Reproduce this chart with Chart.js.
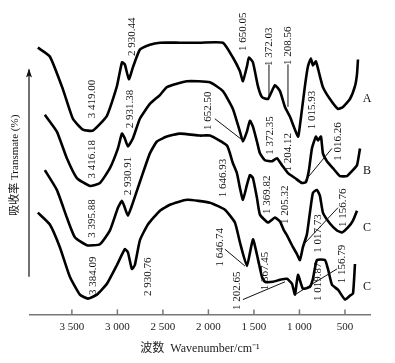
<!DOCTYPE html>
<html lang="zh">
<head>
<meta charset="UTF-8">
<title>FTIR spectra</title>
<script src="https://cdn.jsdelivr.net/npm/chart.js"></script>
<style>
  html, body { margin: 0; padding: 0; background: #fff; }
</style>
</head>
<body>
<canvas id="myChart" width="395" height="363"></canvas>
<script>
// wavenumber (cm-1) and relative transmittance
const waveA  = [3874,3742,3599,3489,3379,3269,3115,3005,2950,2918,2874,2830,2753,2643,2533,2313,2093,1841,1731,1654,1621,1577,1555,1511,1456,1412,1346,1269,1214,1159,1104,1016,995,940,907,874,852,819,775,742,665,577,522,445,390,368,357];
const transA = [270,261,228,198,187,186,201,231,255,253,238,250,268,273,275,275,275,275,260,246,236,251,260,255,231,220,218,232,226,210,200,180,191,231,251,259,252,256,241,230,218,208,210,218,231,243,258];

const waveB  = [3797,3665,3555,3445,3302,3192,3082,2994,2950,2918,2885,2830,2753,2643,2533,2456,2236,1984,1841,1731,1654,1621,1577,1544,1511,1467,1434,1379,1302,1247,1192,1126,1049,973,929,896,863,819,797,764,742,698,632,555,478,423,368,335];
const transB = [202,185,158,138,130,133,148,168,183,178,170,178,198,213,222,230,236,235,226,208,185,175,185,196,190,175,163,156,155,158,151,143,138,133,134,146,168,180,176,180,163,155,148,140,140,145,151,168];

const waveC1  = [3797,3665,3555,3467,3335,3192,3082,2994,2950,2918,2885,2841,2786,2720,2643,2566,2456,2313,2093,1984,1797,1731,1687,1654,1621,1577,1544,1511,1467,1434,1346,1269,1214,1170,1137,1104,1071,1027,995,962,918,885,852,808,775,742,665,588,533,467,412,368];
const transC1 = [146,126,98,78,70,71,85,108,115,108,100,110,125,143,163,175,180,183,181,181,171,153,143,128,116,131,141,138,118,101,93,98,94,85,80,74,68,61,55,68,81,103,123,126,120,103,92,85,83,88,95,105];

const waveC2  = [3874,3742,3632,3522,3412,3324,3225,3115,3005,2918,2885,2841,2808,2753,2665,2533,2423,2236,1984,1819,1709,1654,1577,1511,1456,1412,1379,1291,1214,1137,1082,1049,1016,962,885,852,808,720,687,643,577,500,445,412,390];
const transC2 = [103,91,68,38,20,16,20,31,50,66,63,46,50,75,91,105,111,116,113,106,93,73,49,76,56,38,33,33,35,36,31,20,40,26,28,36,55,55,46,30,25,15,19,21,51];

const xTicks = [3500,3000,2500,2000,1500,1000,500];

// peak labels: text, wavenumber, level
const peakText = ['3 419.00','2 930.44','3 416.18','2 931.38','2 930.91','3 395.88','3 384.09','2 930.76',
  '1 650.05','1 372.03','1 208.56','1 015.93','1 652.50','1 372.35','1 204.12','1 016.26',
  '1 646.93','1 369.82','1 205.32','1 017.73','1 156.76','1 646.74','1 367.45','1 202.65','1 019.87','1 156.79'];
const peakWave = [3280,2841,3280,2863,2885,3280,3269,2665,1621,1335,1126,863,2005,1324,1126,577,1841,1357,1159,797,522,1874,1379,1687,797,533];
const peakLevel = [218,281,157,208,140,97,39,38,286,271,272,207,206,181,164,175,138,121,111,82,108,68,44,24,33,51];

// leader lines: from (wave, level) to (wave, level)
const leaders = [
  [1335,253,1335,220],[1126,253,1126,210],[1929,198,1621,176],[940,135,643,168],
  [962,70,577,108],[1819,66,1599,49],[1621,15,1159,33],[1049,20,588,46]
];

const curveNames = ['A','B','C','C'];
const curveNameLevel = [218,145,88,28];

function toPoints(xs, ys) {
  return xs.map((x, i) => ({x: x, y: ys[i]}));
}

function fmt(v) {
  if (v >= 1000) {
    return Math.floor(v / 1000) + ' ' + String(v % 1000).padStart(3, '0');
  }
  return String(v);
}

const serif = "'Liberation Serif', 'Noto Sans CJK SC', serif";

const decor = {
  id: 'decor',
  afterDatasetsDraw(chart) {
    const ctx = chart.ctx;
    const xs = chart.scales.x, ys = chart.scales.y;
    const area = chart.chartArea;
    ctx.save();

    // inner tick marks
    ctx.strokeStyle = '#777';
    ctx.lineWidth = 1.5;
    xTicks.forEach(v => {
      const px = xs.getPixelForValue(v);
      ctx.beginPath();
      ctx.moveTo(px, area.bottom);
      ctx.lineTo(px, area.bottom - 5);
      ctx.stroke();
    });

    // leader lines
    ctx.strokeStyle = '#111';
    ctx.lineWidth = 1;
    leaders.forEach(l => {
      ctx.beginPath();
      ctx.moveTo(xs.getPixelForValue(l[0]), ys.getPixelForValue(l[1]));
      ctx.lineTo(xs.getPixelForValue(l[2]), ys.getPixelForValue(l[3]));
      ctx.stroke();
    });

    // rotated peak labels
    ctx.fillStyle = '#111';
    ctx.font = '11px ' + serif;
    ctx.textAlign = 'center';
    ctx.textBaseline = 'middle';
    peakText.forEach((t, i) => {
      ctx.save();
      ctx.translate(xs.getPixelForValue(peakWave[i]), ys.getPixelForValue(peakLevel[i]));
      ctx.rotate(-Math.PI / 2);
      ctx.fillText(t, 0, 0);
      ctx.restore();
    });

    // curve names
    ctx.font = '12px ' + serif;
    curveNames.forEach((n, i) => {
      ctx.fillText(n, xs.getPixelForValue(258), ys.getPixelForValue(curveNameLevel[i]));
    });

    // y arrow
    const ax = area.left - 1;
    const y0 = ys.getPixelForValue(38), y1 = ys.getPixelForValue(248);
    ctx.strokeStyle = '#111';
    ctx.lineWidth = 1.2;
    ctx.beginPath();
    ctx.moveTo(ax, y0);
    ctx.lineTo(ax, y1);
    ctx.stroke();
    ctx.fillStyle = '#111';
    ctx.beginPath();
    ctx.moveTo(ax, y1 - 1);
    ctx.lineTo(ax - 3, y1 + 8);
    ctx.lineTo(ax, y1 + 6);
    ctx.lineTo(ax + 3, y1 + 8);
    ctx.closePath();
    ctx.fill();

    // y title
    ctx.save();
    ctx.translate(15, ys.getPixelForValue(151));
    ctx.rotate(-Math.PI / 2);
    ctx.font = '11px ' + serif;
    ctx.fillText('吸收率 Transmate (%)', 0, 0);
    ctx.restore();

    ctx.restore();
  }
};

function lineSet(label, xs, ys) {
  return {
    label: label,
    data: toPoints(xs, ys),
    borderColor: '#000',
    borderWidth: 2.6,
    pointRadius: 0,
    tension: 0.15,
    fill: false
  };
}

const ctx = document.getElementById('myChart');
const chart = new Chart(ctx, {
  type: 'line',
  data: {
    datasets: [
      lineSet('A', waveA, transA),
      lineSet('B', waveB, transB),
      lineSet('C', waveC1, transC1),
      lineSet('C', waveC2, transC2)
    ]
  },
  options: {
    responsive: false,
    animation: false,
    devicePixelRatio: 1,
    layout: { padding: { left: 30, right: 25, top: 18, bottom: 7 } },
    plugins: {
      legend: { display: false },
      tooltip: { enabled: false }
    },
    scales: {
      x: {
        type: 'linear',
        reverse: true,
        min: 225,
        max: 3960,
        afterBuildTicks: s => { s.ticks = xTicks.map(v => ({value: v})); },
        grid: { display: false, drawTicks: false },
        border: { display: true, color: '#777', width: 1.5 },
        ticks: {
          padding: 6,
          color: '#222',
          maxRotation: 0,
          font: { family: serif, size: 11 },
          callback: v => fmt(v)
        },
        title: {
          display: true,
          text: '波数  Wavenumber/cm⁻¹',
          color: '#222',
          padding: { top: 2, bottom: 0 },
          font: { family: serif, size: 12 }
        }
      },
      y: { display: false, min: 0, max: 300 }
    }
  },
  plugins: [decor]
});
</script>
</body>
</html>
